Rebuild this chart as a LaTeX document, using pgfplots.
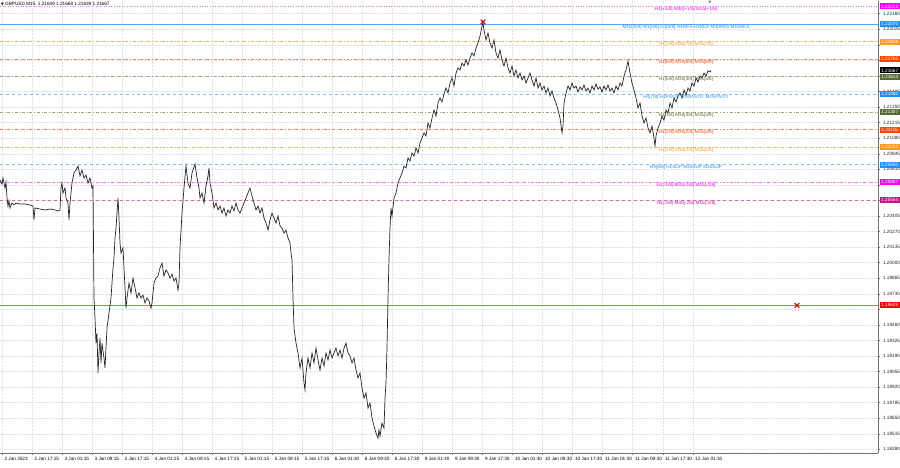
\documentclass[border=0pt]{standalone}
\usepackage{fontspec}
\setmainfont{Liberation Sans}
\newfontfamily\symfont{DejaVu Sans}
\usepackage{pgfplots}
\usepackage{pgfplotstable}
\pgfplotsset{compat=1.18}

\definecolor{mmag}{HTML}{FF00FF}
\definecolor{mblue}{HTML}{1E90FF}
\definecolor{morange}{HTML}{FF9A1F}
\definecolor{mred}{HTML}{FF4500}
\definecolor{molive}{HTML}{556B2F}
\definecolor{mviolet}{HTML}{C71585}
% lighter tints for the level lines
\definecolor{lmag}{HTML}{FF6BFF}
\definecolor{lblue}{HTML}{4FA8FF}
\definecolor{lblued}{HTML}{7DBEFF}
\definecolor{lorange}{HTML}{FFAE4F}
\definecolor{lred}{HTML}{FF8050}
\definecolor{lolive}{HTML}{9AA27F}
\definecolor{lviolet}{HTML}{DC6AAE}
\definecolor{lredline}{HTML}{FF5A5A}
\newcommand\tf{\fontsize{4.7}{5.5}\selectfont}
\tikzset{lvl/.style={font=\tf, yshift=-3bp},
    pbox/.style={anchor=west, xshift=1.5bp, font=\tf, text=white,
    inner sep=0.6bp, minimum height=6bp, minimum width=20bp}}

% GBPUSD M15 price path (x in chart pixels, y = price)
\pgfplotstableread{
x p
0 1.20717
2 1.20682
3 1.20734
5 1.20647
6 1.20699
7 1.20561
8 1.20491
9 1.20535
10 1.20474
12 1.20517
14 1.20500
16 1.20517
20 1.20509
25 1.20509
30 1.20500
33 1.20491
34 1.20370
35 1.20474
40 1.20465
45 1.20457
50 1.20465
55 1.20457
58 1.20448
60 1.20457
61 1.20647
62 1.20691
63 1.20604
65 1.20647
66 1.20561
68 1.20517
69 1.20370
70 1.20517
72 1.20691
74 1.20778
76 1.20804
78 1.20838
80 1.20752
82 1.20804
84 1.20734
86 1.20760
88 1.20691
90 1.20734
92 1.20647
93 1.20665
94 1.19693
95 1.19519
96 1.19302
97 1.19389
98 1.19042
99 1.19216
100 1.19346
101 1.19129
102 1.19302
104 1.19172
105 1.19086
106 1.19259
107 1.19433
109 1.19563
111 1.19693
112 1.19823
113 1.19953
114 1.20040
115 1.20214
116 1.20300
117 1.20430
118 1.20561
119 1.20387
120 1.20170
121 1.20083
123 1.20127
125 1.19780
126 1.19606
127 1.19693
129 1.19823
131 1.19736
133 1.19866
135 1.19780
137 1.19693
139 1.19736
141 1.19693
143 1.19719
145 1.19650
147 1.19693
149 1.19667
151 1.19606
152 1.19650
154 1.19823
156 1.19866
158 1.19884
160 1.19953
162 1.19997
164 1.19884
166 1.19936
168 1.19910
170 1.19866
172 1.19901
174 1.19840
176 1.19866
178 1.19762
179 1.19823
180 1.20127
182 1.20430
184 1.20647
186 1.20838
188 1.20691
190 1.20647
192 1.20778
195 1.20856
197 1.20734
199 1.20647
200 1.20561
202 1.20604
204 1.20517
206 1.20665
208 1.20752
209 1.20821
210 1.20691
212 1.20604
214 1.20474
216 1.20517
218 1.20457
220 1.20491
222 1.20430
224 1.20474
226 1.20404
228 1.20457
230 1.20430
232 1.20491
234 1.20448
236 1.20517
238 1.20457
240 1.20430
242 1.20474
244 1.20517
246 1.20561
248 1.20604
250 1.20647
252 1.20578
254 1.20517
256 1.20457
258 1.20491
260 1.20430
262 1.20474
264 1.20387
266 1.20344
268 1.20283
270 1.20370
272 1.20430
274 1.20387
276 1.20344
278 1.20404
280 1.20318
282 1.20300
284 1.20257
286 1.20283
288 1.20214
290 1.20170
291 1.20083
292 1.20023
293 1.19693
294 1.19433
296 1.19302
298 1.19216
300 1.19086
302 1.19172
304 1.18955
305 1.18895
306 1.19042
308 1.19172
310 1.19086
312 1.19216
314 1.19129
316 1.19259
318 1.19155
320 1.19068
322 1.19172
324 1.19103
326 1.19216
328 1.19155
330 1.19242
332 1.19172
334 1.19216
336 1.19259
338 1.19190
340 1.19242
342 1.19172
344 1.19259
346 1.19302
348 1.19216
350 1.19190
352 1.19129
354 1.19172
356 1.19068
358 1.18999
360 1.19042
362 1.18912
364 1.18825
366 1.18869
368 1.18738
370 1.18782
372 1.18652
374 1.18582
376 1.18522
378 1.18478
379 1.18548
380 1.18496
382 1.18608
384 1.18565
385 1.18825
386 1.18955
387 1.19259
388 1.19693
389 1.20040
390 1.20300
391 1.20474
392 1.20404
394 1.20561
396 1.20604
398 1.20691
400 1.20734
402 1.20778
404 1.20838
406 1.20821
408 1.20908
410 1.20882
412 1.20951
414 1.20925
416 1.20994
418 1.20951
420 1.21038
422 1.21081
424 1.21125
426 1.21099
428 1.21211
430 1.21168
432 1.21255
434 1.21324
436 1.21272
438 1.21385
440 1.21428
442 1.21394
444 1.21463
446 1.21515
448 1.21472
450 1.21558
452 1.21602
454 1.21532
456 1.21645
458 1.21689
460 1.21671
462 1.21732
464 1.21706
466 1.21758
468 1.21715
470 1.21775
472 1.21819
474 1.21793
476 1.21862
478 1.21906
480 1.21966
482 1.22053
483 1.22079
484 1.22018
486 1.21932
488 1.21992
490 1.21906
492 1.21862
494 1.21932
496 1.21819
498 1.21775
500 1.21845
502 1.21758
504 1.21706
506 1.21775
508 1.21689
510 1.21645
512 1.21706
514 1.21619
516 1.21671
518 1.21602
520 1.21645
522 1.21585
524 1.21619
526 1.21558
528 1.21602
530 1.21645
532 1.21585
534 1.21532
536 1.21602
538 1.21515
540 1.21558
542 1.21498
544 1.21532
546 1.21472
548 1.21515
550 1.21446
552 1.21489
554 1.21428
556 1.21385
558 1.21324
560 1.21255
562 1.21125
563 1.21185
564 1.21385
566 1.21472
568 1.21532
570 1.21498
572 1.21558
574 1.21515
576 1.21532
578 1.21480
580 1.21524
582 1.21498
584 1.21541
586 1.21489
588 1.21515
590 1.21472
592 1.21532
594 1.21498
596 1.21550
598 1.21506
600 1.21524
602 1.21480
604 1.21532
606 1.21498
608 1.21541
610 1.21489
612 1.21515
614 1.21472
616 1.21532
618 1.21498
620 1.21558
622 1.21532
624 1.21619
626 1.21671
628 1.21749
630 1.21645
632 1.21558
634 1.21498
636 1.21428
638 1.21342
640 1.21385
642 1.21272
644 1.21211
646 1.21255
648 1.21168
650 1.21125
652 1.21185
654 1.21081
655 1.21012
656 1.21099
658 1.21168
660 1.21211
662 1.21272
664 1.21237
666 1.21324
668 1.21298
670 1.21385
672 1.21342
674 1.21428
676 1.21394
678 1.21446
680 1.21472
682 1.21428
684 1.21498
686 1.21454
688 1.21515
690 1.21489
692 1.21558
694 1.21532
696 1.21602
698 1.21567
700 1.21619
702 1.21602
704 1.21645
706 1.21619
708 1.21663
710 1.21654
711 1.21667
}\price

\begin{document}
\begin{tikzpicture}[x=1bp,y=1bp]
\useasboundingbox (0,0) rectangle (900,468);
\fill[white] (0,0) rectangle (900,468);
\begin{axis}[
    at={(0,13)}, anchor=south west,
    scale only axis, width=878bp, height=452bp,
    xmin=0, xmax=878, ymin=1.18348, ymax=1.22270,
    axis x line*=bottom, axis y line*=right,
    axis line style={-, black!55, line width=0.5bp},
    tick style={black!55, line width=0.4bp},
    major tick length=2bp, tick align=outside,
    grid=major,
    major grid style={black!11, densely dotted, line width=0.4bp},
    xtick={2,32,62,92.1,122.1,152.2,182.2,212.2,242.2,272.3,302.3,332.3,
           362.4,392.4,422.4,452.5,482.5,512.5,542.5,572.6,602.6,632.6,662.7,692.7},
    xticklabels={2 Jan 2023,2 Jan 17:15,3 Jan 01:15,3 Jan 09:15,3 Jan 17:15,
           4 Jan 01:15,4 Jan 09:15,4 Jan 17:15,5 Jan 01:15,5 Jan 09:15,5 Jan 17:15,
           6 Jan 01:30,6 Jan 09:30,6 Jan 17:30,9 Jan 01:30,9 Jan 09:30,9 Jan 17:30,
           10 Jan 01:30,10 Jan 09:30,10 Jan 17:30,11 Jan 01:30,11 Jan 09:30,
           11 Jan 17:30,12 Jan 01:30},
    xticklabel style={font=\tf, anchor=north west, xshift=-1bp, yshift=1bp},
    ytick={1.18380,1.18515,1.18650,1.18785,1.18920,1.19055,1.19190,1.19325,
           1.19460,1.19595,1.19730,1.19865,1.20000,1.20135,1.20270,1.20405,
           1.20540,1.20675,1.20810,1.20945,1.21080,1.21215,1.21350,1.21485,
           1.21620,1.21755,1.21890,1.22025,1.22160},
    yticklabels={1.18380,1.18515,1.18650,1.18785,1.18920,1.19055,1.19190,1.19325,
           1.19460,,1.19730,1.19865,1.20000,1.20135,1.20270,1.20405,
           ,,1.20810,1.20945,1.21080,1.21215,1.21350,1.21485,
           ,,,1.22025,1.22160},
    yticklabel style={font=\tf, text=black!85, xshift=-0.5bp},
    clip=false,
]
% Murrey math levels
\addplot[color=lmag, dotted, line width=0.6bp] coordinates {(0,1.22223) (878,1.22223)};
\addplot[color=lblue, line width=0.7bp] coordinates {(0,1.22070) (878,1.22070)};
\addplot[color=lorange, dash dot, line width=0.5bp] coordinates {(0,1.21918) (878,1.21918)};
\addplot[color=lred, dash dot, line width=0.5bp] coordinates {(0,1.21765) (878,1.21765)};
\addplot[color=lolive, dash dot, line width=0.5bp] coordinates {(0,1.21613) (878,1.21613)};
\addplot[color=lblued, dashed, line width=0.6bp] coordinates {(0,1.21460) (878,1.21460)};
\addplot[color=lolive, dash dot, line width=0.5bp] coordinates {(0,1.21307) (878,1.21307)};
\addplot[color=lred, dash dot, line width=0.5bp] coordinates {(0,1.21155) (878,1.21155)};
\addplot[color=lorange, dash dot, line width=0.5bp] coordinates {(0,1.21002) (878,1.21002)};
\addplot[color=lblued, dashed, line width=0.6bp] coordinates {(0,1.20850) (878,1.20850)};
\addplot[color=lmag, dash dot, line width=0.5bp] coordinates {(0,1.20697) (878,1.20697)};
\addplot[color=lviolet, dashed, line width=0.5bp] coordinates {(0,1.20544) (878,1.20544)};
\addplot[color=lredline, line width=0.9bp] coordinates {(0,1.19629) (878,1.19629)};

% price
\addplot[black!85, line width=0.7bp] table[x=x, y=p] {\price};

% crosses
\addplot[only marks, mark=x, mark size=3.3bp, red!85!black, line width=1.1bp]
    coordinates {(483,1.22088) (797,1.19629)};

% level captions
\node[lvl, text=mmag] at (axis cs:686,1.22223) {H1[+1/8] M30[+1/8] M15[+1/8]};
\node[lvl, text=mblue] at (axis cs:686,1.22070) {MN1[5/8] W1[5/8] D1[8/8] H4RES H1RES M30RES M15RES};
\node[lvl, text=morange] at (axis cs:686,1.21918) {H1[7/8] M30[7/8] M15[7/8]};
\node[lvl, text=mred] at (axis cs:686,1.21765) {H1[6/8] M30[6/8] M15[6/8]};
\node[lvl, text=molive] at (axis cs:686,1.21613) {H1[5/8] M30[5/8] M15[5/8]};
\node[lvl, text=mblue] at (axis cs:686,1.21460) {H4[7/8] H1PIVOT M30PIVOT M15PIVOT};
\node[lvl, text=molive] at (axis cs:686,1.21307) {H1[3/8] M30[3/8] M15[3/8]};
\node[lvl, text=mred] at (axis cs:686,1.21155) {H1[2/8] M30[2/8] M15[2/8]};
\node[lvl, text=morange] at (axis cs:686,1.21002) {H1[1/8] M30[1/8] M15[1/8]};
\node[lvl, text=mblue] at (axis cs:686,1.20850) {H4[6/8] H1SUP M30SUP M15SUP};
\node[lvl, text=mmag] at (axis cs:686,1.20697) {H1[-1/8] M30[-1/8] M15[-1/8]};
\node[lvl, text=mviolet] at (axis cs:686,1.20544) {H1[-2/8] M30[-2/8] M15[-2/8]};

% header
\node[anchor=north west, font=\tf, inner sep=1bp] at (rel axis cs:0,1)
    {{\symfont\fontsize{3.5}{4}\selectfont ▼}\ GBPUSD,M15\ \ 1.21649 1.21668 1.21639 1.21667};
\node[anchor=north, inner sep=0pt, text=black!60] at (axis cs:710,1.22270)
    {\symfont\fontsize{3.5}{4}\selectfont ▼};

\coordinate (b1) at (axis cs:878,1.22223);
\coordinate (b2) at (axis cs:878,1.22070);
\coordinate (b3) at (axis cs:878,1.21918);
\coordinate (b4) at (axis cs:878,1.21765);
\coordinate (b5) at (axis cs:878,1.21667);
\coordinate (b6) at (axis cs:878,1.21613);
\coordinate (b7) at (axis cs:878,1.21460);
\coordinate (b8) at (axis cs:878,1.21307);
\coordinate (b9) at (axis cs:878,1.21155);
\coordinate (b10) at (axis cs:878,1.21002);
\coordinate (b11) at (axis cs:878,1.20850);
\coordinate (b12) at (axis cs:878,1.20697);
\coordinate (b13) at (axis cs:878,1.20544);
\coordinate (b14) at (axis cs:878,1.19629);
\end{axis}

% price boxes on the scale
\node[pbox, fill=mmag] at (b1) {1.22223};
\node[pbox, fill=mblue] at (b2) {1.22070};
\node[pbox, fill=morange] at (b3) {1.21918};
\node[pbox, fill=mred] at (b4) {1.21765};
\node[pbox, fill=molive] at (b6) {1.21613};
\node[pbox, fill=black] at (b5) {1.21667};
\node[pbox, fill=mblue] at (b7) {1.21460};
\node[pbox, fill=molive] at (b8) {1.21307};
\node[pbox, fill=mred] at (b9) {1.21155};
\node[pbox, fill=morange] at (b10) {1.21002};
\node[pbox, fill=mblue] at (b11) {1.20850};
\node[pbox, fill=mmag] at (b12) {1.20697};
\node[pbox, fill=mviolet] at (b13) {1.20544};
\node[pbox, fill=red] at (b14) {1.19629};
\end{tikzpicture}
\end{document}
